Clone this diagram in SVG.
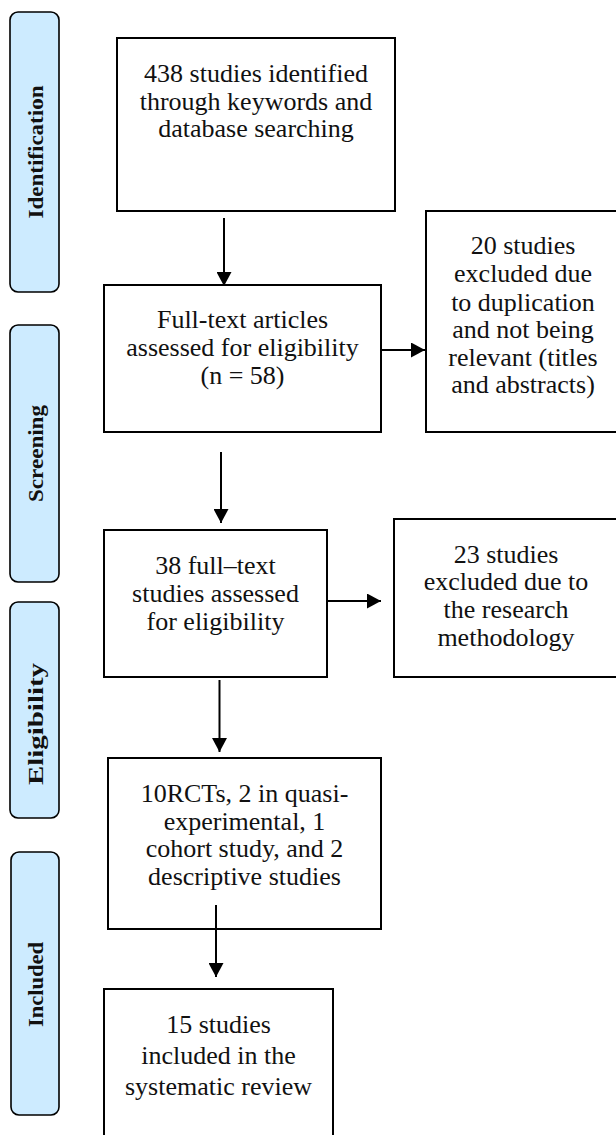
<svg xmlns="http://www.w3.org/2000/svg" width="616" height="1135" viewBox="0 0 616 1135">
<style>
.box{fill:#fff;stroke:#000;stroke-width:2}
.pill{fill:#CDEBFF;stroke:#000;stroke-width:1.6}
.t{font-family:"Liberation Serif","DejaVu Serif",serif;font-size:26px;fill:#111;text-anchor:middle}
.lab{font-family:"Liberation Serif","DejaVu Serif",serif;font-size:21px;font-weight:bold;fill:#111;text-anchor:middle}
.c{stroke:#000;stroke-width:2;fill:none;marker-end:url(#ah)}
</style>
<defs>
<marker id="ah" markerUnits="userSpaceOnUse" markerWidth="14" markerHeight="15" refX="14" refY="7.5" orient="auto">
<path d="M0,0 L14,7.5 L0,15 z" fill="#000"/>
</marker>
</defs>
<rect width="616" height="1135" fill="#fff"/>
<g id="stage-identification">
<rect class="pill" x="10" y="12" width="49" height="280" rx="8"/>
<text class="lab" transform="translate(43,152) rotate(-90)" textLength="133" lengthAdjust="spacingAndGlyphs">Identification</text>
</g>
<g id="stage-screening">
<rect class="pill" x="10" y="325" width="49" height="257" rx="8"/>
<text class="lab" transform="translate(43,453.5) rotate(-90)" textLength="97" lengthAdjust="spacingAndGlyphs">Screening</text>
</g>
<g id="stage-eligibility">
<rect class="pill" x="10" y="602" width="49" height="216" rx="8"/>
<text class="lab" transform="translate(43,724) rotate(-90)" textLength="122" lengthAdjust="spacingAndGlyphs">Eligibility</text>
</g>
<g id="stage-included">
<rect class="pill" x="11" y="852" width="48" height="263" rx="8"/>
<text class="lab" transform="translate(43,984.5) rotate(-90)" textLength="85" lengthAdjust="spacingAndGlyphs">Included</text>
</g>
<g id="connectors">
<line class="c" x1="224" y1="218" x2="224" y2="286"/>
<line class="c" x1="381" y1="350" x2="425" y2="350"/>
<line class="c" x1="221" y1="452" x2="221" y2="523"/>
<line class="c" x1="327" y1="601" x2="381" y2="601"/>
<line class="c" x1="219.5" y1="680" x2="219.5" y2="752"/>
</g>
<g id="n1">
<rect class="box" x="117" y="38" width="278" height="173"/>
<text class="t" x="256" y="82">438 studies identified</text>
<text class="t" x="256" y="109.5">through keywords and</text>
<text class="t" x="256" y="137">database searching</text>
</g>
<g id="n2">
<rect class="box" x="104" y="285" width="277" height="147"/>
<text class="t" x="242.5" y="328">Full-text articles</text>
<text class="t" x="242.5" y="356">assessed for eligibility</text>
<text class="t" x="242.5" y="384">(n = 58)</text>
</g>
<g id="n3">
<rect class="box" x="426" y="211" width="200" height="221"/>
<text class="t" x="523" y="254">20 studies</text>
<text class="t" x="523" y="282">excluded due</text>
<text class="t" x="523" y="311">to duplication</text>
<text class="t" x="523" y="338">and not being</text>
<text class="t" x="523" y="366">relevant (titles</text>
<text class="t" x="523" y="393">and abstracts)</text>
</g>
<g id="n4">
<rect class="box" x="104" y="530" width="223" height="147"/>
<text class="t" x="215.5" y="574">38 full–text</text>
<text class="t" x="215.5" y="602">studies assessed</text>
<text class="t" x="215.5" y="630">for eligibility</text>
</g>
<g id="n5">
<rect class="box" x="394" y="519" width="230" height="158"/>
<text class="t" x="506" y="563">23 studies</text>
<text class="t" x="506" y="590">excluded due to</text>
<text class="t" x="506" y="618">the research</text>
<text class="t" x="506" y="646">methodology</text>
</g>
<g id="n6">
<rect class="box" x="108" y="758" width="273" height="171"/>
<text class="t" x="244.5" y="802">10RCTs, 2 in quasi-</text>
<text class="t" x="244.5" y="830">experimental, 1</text>
<text class="t" x="244.5" y="857">cohort study, and 2</text>
<text class="t" x="244.5" y="885">descriptive studies</text>
</g>
<g id="n7">
<rect class="box" x="104" y="989" width="229" height="160"/>
<text class="t" x="218.5" y="1033">15 studies</text>
<text class="t" x="218.5" y="1064">included in the</text>
<text class="t" x="218.5" y="1095">systematic review</text>
</g>
<g id="connectors-overlay">
<line class="c" x1="216" y1="905" x2="216" y2="977"/>
</g>
</svg>
